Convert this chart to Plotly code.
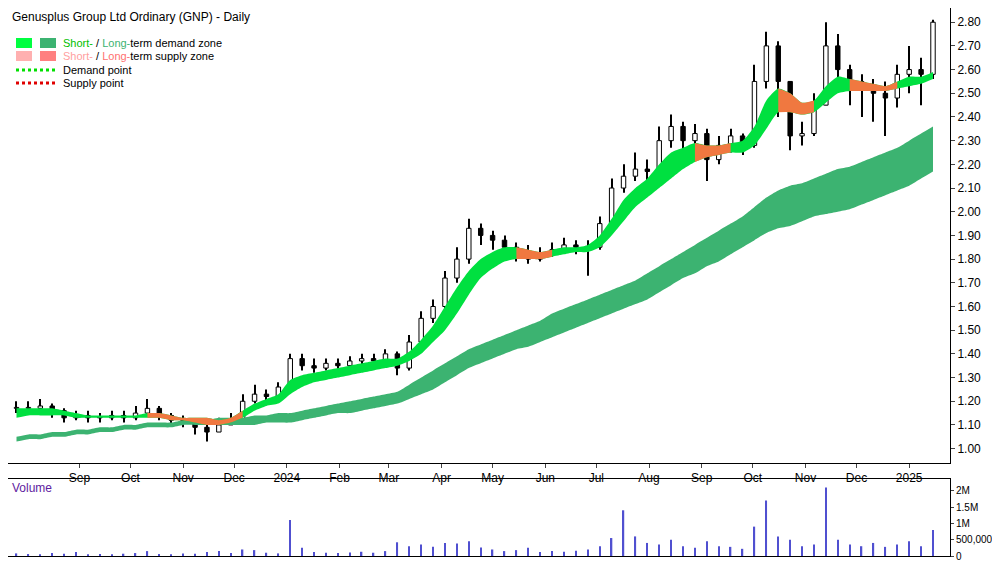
import pandas as pd
import numpy as np
import plotly.graph_objects as go

week_start = "2023-07-24"
n_weeks = 78
closes = [1.17,1.17,1.18,1.16,1.13,1.14,1.13,1.13,1.14,1.13,
          1.15,1.17,1.14,1.12,1.11,1.09,1.07,1.10,1.12,1.20,
          1.23,1.22,1.26,1.38,1.35,1.34,1.36,1.35,1.37,1.38,
          1.37,1.40,1.34,1.45,1.55,1.60,1.72,1.80,1.93,1.90,
          1.88,1.85,1.82,1.80,1.82,1.84,1.86,1.85,1.85,1.95,
          2.10,2.15,2.18,2.17,2.30,2.36,2.30,2.33,2.22,2.28,
          2.32,2.28,2.55,2.70,2.55,2.32,2.33,2.45,2.70,2.60,
          2.55,2.52,2.50,2.48,2.58,2.60,2.58,2.80]
highs = [1.20,1.20,1.21,1.19,1.17,1.16,1.16,1.15,1.16,1.16,
         1.18,1.21,1.18,1.15,1.14,1.12,1.11,1.13,1.15,1.23,
         1.27,1.25,1.28,1.40,1.40,1.38,1.38,1.38,1.39,1.40,
         1.40,1.42,1.41,1.48,1.58,1.63,1.75,1.85,1.97,1.95,
         1.92,1.90,1.87,1.86,1.85,1.87,1.89,1.88,1.88,1.98,
         2.14,2.20,2.25,2.22,2.36,2.41,2.38,2.37,2.35,2.32,
         2.35,2.33,2.62,2.76,2.72,2.55,2.38,2.50,2.80,2.75,
         2.62,2.58,2.56,2.55,2.62,2.70,2.65,2.81]
lows = [1.15,1.15,1.15,1.13,1.11,1.12,1.11,1.11,1.12,1.11,
        1.12,1.14,1.12,1.10,1.09,1.06,1.03,1.07,1.10,1.11,
        1.19,1.20,1.21,1.25,1.33,1.32,1.33,1.33,1.34,1.35,
        1.35,1.36,1.31,1.33,1.44,1.53,1.58,1.70,1.78,1.86,
        1.84,1.80,1.79,1.78,1.79,1.81,1.83,1.82,1.73,1.84,
        1.94,2.08,2.13,2.12,2.15,2.27,2.20,2.25,2.13,2.20,
        2.25,2.24,2.27,2.52,2.40,2.26,2.28,2.32,2.45,2.52,
        2.45,2.40,2.38,2.32,2.44,2.50,2.45,2.56]
long_lo = [1.03,1.04,1.04,1.05,1.05,1.06,1.06,1.07,1.07,1.08,
           1.08,1.09,1.09,1.09,1.10,1.10,1.10,1.10,1.10,1.10,
           1.10,1.11,1.11,1.11,1.12,1.13,1.14,1.15,1.15,1.16,
           1.17,1.18,1.19,1.21,1.23,1.25,1.28,1.31,1.34,1.36,
           1.38,1.40,1.42,1.43,1.45,1.47,1.49,1.51,1.53,1.55,
           1.57,1.59,1.61,1.63,1.66,1.69,1.72,1.74,1.77,1.79,
           1.82,1.85,1.88,1.91,1.93,1.94,1.96,1.98,1.99,2.00,
           2.01,2.03,2.05,2.07,2.09,2.11,2.14,2.17]
long_hi = [1.05,1.06,1.06,1.07,1.07,1.08,1.08,1.09,1.09,1.10,
           1.10,1.11,1.11,1.11,1.12,1.12,1.12,1.13,1.13,1.13,
           1.14,1.14,1.15,1.15,1.16,1.17,1.18,1.19,1.20,1.21,
           1.22,1.23,1.24,1.27,1.30,1.33,1.36,1.39,1.42,1.44,
           1.46,1.48,1.50,1.52,1.54,1.57,1.59,1.61,1.63,1.65,
           1.67,1.69,1.71,1.74,1.77,1.80,1.83,1.86,1.89,1.92,
           1.95,1.98,2.02,2.06,2.09,2.11,2.12,2.14,2.16,2.18,
           2.19,2.21,2.23,2.25,2.27,2.30,2.33,2.36]
short_lo = [1.13,1.14,1.14,1.14,1.14,1.13,1.13,1.13,1.13,1.13,
            1.13,1.13,1.13,1.12,1.12,1.11,1.10,1.10,1.11,1.13,
            1.16,1.18,1.19,1.23,1.26,1.28,1.29,1.30,1.31,1.32,
            1.33,1.34,1.35,1.37,1.40,1.45,1.50,1.57,1.65,1.72,
            1.76,1.79,1.80,1.80,1.80,1.81,1.82,1.83,1.83,1.85,
            1.90,1.96,2.02,2.06,2.10,2.14,2.18,2.21,2.23,2.24,
            2.25,2.25,2.28,2.35,2.42,2.42,2.41,2.42,2.46,2.50,
            2.51,2.51,2.51,2.51,2.52,2.53,2.54,2.56]
short_hi = [1.17,1.17,1.17,1.17,1.16,1.15,1.14,1.14,1.14,1.14,
            1.14,1.15,1.15,1.14,1.13,1.13,1.13,1.12,1.13,1.16,
            1.19,1.21,1.23,1.29,1.31,1.32,1.33,1.34,1.35,1.36,
            1.37,1.38,1.38,1.41,1.46,1.52,1.60,1.68,1.75,1.80,
            1.83,1.85,1.85,1.84,1.83,1.84,1.85,1.85,1.86,1.90,
            1.97,2.05,2.10,2.14,2.20,2.25,2.27,2.29,2.28,2.28,
            2.29,2.30,2.36,2.47,2.52,2.50,2.46,2.47,2.53,2.57,
            2.56,2.55,2.54,2.53,2.55,2.57,2.57,2.59]
short_state = list("DDDDDDDDDDDDSSSSSSSDDDDDDDDDDDDDDDDDDDDDDDDSSDDDDDDDDDDDDDSSDDDDDSSDDDDSSSDDDD")
volumes = [80,60,50,90,70,120,40,60,50,70, 90,150,60,50,80,70,120,150,90,200,
           180,100,80,1100,250,120,100,90,110,130, 100,150,420,300,350,280,400,380,450,260,
           200,150,180,250,120,150,130,160,200,300, 550,1400,600,400,350,500,300,250,450,300,
           280,220,900,1700,600,500,300,350,2100,500, 350,300,400,280,350,450,300,800]
volumes = [v * 1000 for v in volumes]
month_ticks = ["2023-09-01","2023-10-01","2023-11-01","2023-12-01","2024-01-01","2024-02-01",
               "2024-03-01","2024-04-01","2024-05-01","2024-06-01","2024-07-01","2024-08-01",
               "2024-09-01","2024-10-01","2024-11-01","2024-12-01","2025-01-01"]
month_labels = ["Sep","Oct","Nov","Dec","2024","Feb","Mar","Apr","May","Jun","Jul","Aug",
                "Sep","Oct","Nov","Dec","2025"]
price_ticks = [1.00,1.10,1.20,1.30,1.40,1.50,1.60,1.70,1.80,1.90,2.00,2.10,2.20,2.30,2.40,2.50,2.60,2.70,2.80]

dates = pd.date_range(week_start, periods=n_weeks, freq="7D") + pd.Timedelta(days=2)
opens = [closes[0]] + closes[:-1]
day = 24 * 3600 * 1000

fig = go.Figure()

def band(xs, lo, hi, color):
    fig.add_trace(go.Scatter(x=list(xs), y=list(lo), mode="lines", line=dict(width=0, shape="spline", smoothing=0.6),
                             hoverinfo="skip", xaxis="x", yaxis="y"))
    fig.add_trace(go.Scatter(x=list(xs), y=list(hi), mode="lines", line=dict(width=0, shape="spline", smoothing=0.6),
                             fill="tonexty", fillcolor=color, hoverinfo="skip", xaxis="x", yaxis="y"))

band(dates, long_lo, long_hi, "#3cb371")
band(dates, short_lo, short_hi, "#00e040")
i = 0
while i < n_weeks:
    if short_state[i] == "S":
        j = i
        while j < n_weeks and short_state[j] == "S":
            j += 1
        a, b = max(i - 1, 0), min(j + 1, n_weeks)
        band(dates[a:b], short_lo[a:b], short_hi[a:b], "#f07840")
        i = j
    else:
        i += 1

fig.add_trace(go.Bar(x=dates, y=np.array(highs) - np.array(lows), base=lows, width=0.6 * day,
                     marker=dict(color="black", line=dict(width=0)), xaxis="x", yaxis="y"))
body_lo = np.minimum(opens, closes)
body_h = np.maximum(np.abs(np.array(closes) - np.array(opens)), 0.004)
bcol = ["white" if c >= o else "black" for o, c in zip(opens, closes)]
fig.add_trace(go.Bar(x=dates, y=body_h, base=body_lo, width=2.6 * day,
                     marker=dict(color=bcol, line=dict(color="black", width=1)), xaxis="x", yaxis="y"))

fig.add_trace(go.Bar(x=dates, y=volumes, width=0.8 * day, marker=dict(color="#5050d0", line=dict(width=0)),
                     xaxis="x2", yaxis="y2"))

xr = ["2023-07-21", "2025-01-25"]
fig.update_layout(
    width=1000, height=562, margin=dict(l=0, r=58, t=0, b=14),
    paper_bgcolor="white", plot_bgcolor="white", showlegend=False, barmode="overlay",
    font=dict(family="Liberation Sans, Arial", size=12, color="black"),
    xaxis=dict(domain=[0, 1], range=xr, type="date",
               tickvals=month_ticks, ticktext=month_labels, ticks="outside", ticklen=4,
               showline=True, linecolor="black", mirror=True, showgrid=False, anchor="y"),
    yaxis=dict(domain=[0.17, 1], range=[0.94, 2.86], side="right", tickvals=price_ticks,
               tickformat=".2f", ticks="outside", ticklen=4, showline=True, linecolor="black",
               mirror=True, showgrid=False),
    xaxis2=dict(domain=[0, 1], range=xr, type="date", showticklabels=False, matches="x",
                showline=True, linecolor="black", mirror=True, showgrid=False, anchor="y2"),
    yaxis2=dict(domain=[0, 0.14], range=[0, 2350000], side="right",
                tickvals=[0, 500000, 1000000, 1500000, 2000000],
                ticktext=["0", "500,000", "1M", "1.5M", "2M"], ticks="outside", ticklen=3,
                tickfont=dict(size=10),
                showline=True, linecolor="black", mirror=True, showgrid=False, anchor="x2"),
)

fig.add_annotation(x=0.002, y=1.0, xref="paper", yref="paper", xanchor="left", yanchor="top",
                   showarrow=False, text="Genusplus Group Ltd Ordinary (GNP) - Daily", font=dict(size=12))
fig.add_annotation(x=0.002, y=0.14, xref="paper", yref="paper", xanchor="left", yanchor="top",
                   showarrow=False, text="Volume", font=dict(size=12, color="#6020a0"))
legend = [
    ("#00ff40", "#3cb371", "<span style='color:#00c000'>Short-</span> / <span style='color:#3cb371'>Long-</span>term demand zone"),
    ("#ffb0b0", "#ff8080", "<span style='color:#ffa0a0'>Short-</span> / <span style='color:#ff7070'>Long-</span>term supply zone"),
]
H = 548.0
W = 942.0
for i, (c1, c2, txt) in enumerate(legend):
    yc = 35 + i * 13
    for j, c in enumerate([c1, c2]):
        fig.add_shape(type="rect", xref="paper", yref="paper", x0=(8 + j * 24) / W, x1=(24 + j * 24) / W,
                      y0=1 - (yc + 5) / H, y1=1 - (yc - 5) / H, fillcolor=c, line=dict(width=0))
    fig.add_annotation(x=53 / W, y=1 - yc / H, xref="paper", yref="paper", xanchor="left", yanchor="middle",
                       showarrow=False, text=txt, font=dict(size=11))
for i, (c, txt) in enumerate([("#00e000", "Demand point"), ("#e00000", "Supply point")]):
    yc = 62 + i * 13
    fig.add_shape(type="line", xref="paper", yref="paper", x0=8 / W, x1=48 / W,
                  y0=1 - yc / H, y1=1 - yc / H, line=dict(color=c, width=3, dash="dot"))
    fig.add_annotation(x=53 / W, y=1 - yc / H, xref="paper", yref="paper", xanchor="left", yanchor="middle",
                       showarrow=False, text=txt, font=dict(size=11))

fig.write_html("out.html")
